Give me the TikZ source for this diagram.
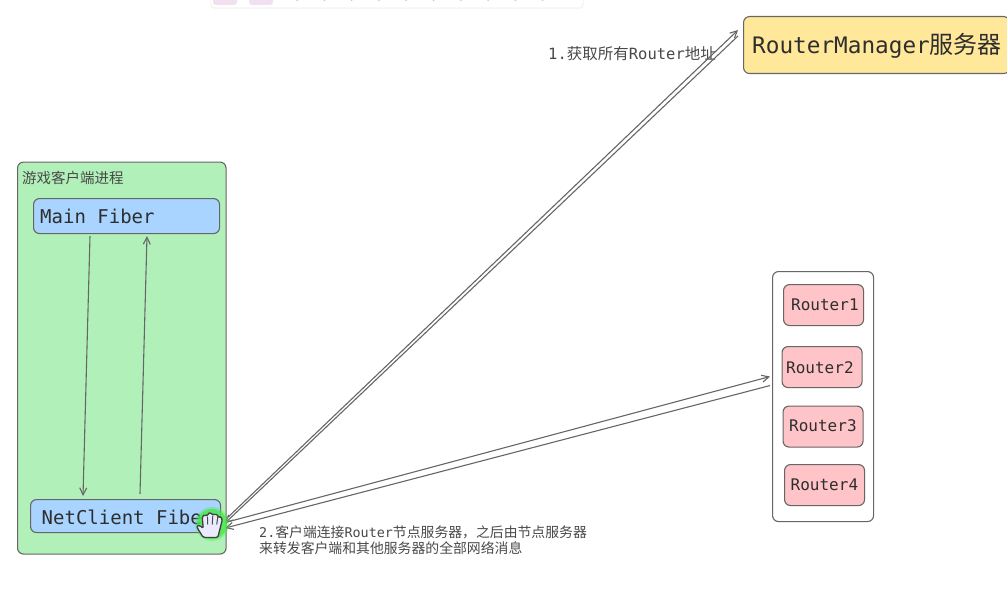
\documentclass[tikz,border=0pt]{standalone}
\usepackage{fontspec}
\setmainfont{Noto Sans CJK SC}
\newfontfamily\mono{DejaVu Sans Mono}
\newfontfamily\cjk{Noto Sans CJK SC}
\usetikzlibrary{calc,arrows.meta}
\definecolor{edgegray}{HTML}{666666}
\definecolor{txt}{HTML}{2E2E2E}
\definecolor{lbltxt}{HTML}{484848}
\definecolor{fiberblue}{HTML}{A8D4FF}
\definecolor{routerpink}{HTML}{FFC4C8}
\definecolor{procgreen}{HTML}{B1F1B9}
\definecolor{mgryellow}{HTML}{FFE89A}
\definecolor{halo}{HTML}{48E848}
\tikzset{
  box/.style={draw=edgegray,line width=1.1pt,rounded corners=6pt,inner sep=0pt,minimum height=33pt},
  fiber/.style={box,fill=fiberblue},
  monotext/.style={inner sep=0pt,text=txt,anchor=west,font=\mono\fontsize{19}{19}\selectfont},
  routerbox/.style={box,fill=routerpink,minimum width=80pt,minimum height=41pt},
  routertext/.style={inner sep=0pt,text=txt,font=\mono\fontsize{16}{16}\selectfont},
  lbl/.style={inner sep=0pt,text=lbltxt,anchor=west},
  conn/.style={draw=edgegray,line width=1.1pt,-{Straight Barb[length=7pt,width=7pt]}},
}
\begin{document}
\begin{tikzpicture}[x=1pt,y=-1pt]
\useasboundingbox (0,0) rectangle (1007,602);
% faint toolbar at top
\fill[black!4,rounded corners=5pt] (210,-8) rectangle (584,9);
\fill[white,rounded corners=5pt] (211,-8) rectangle (583,7.5);
\fill[violet!12,rounded corners=3pt] (213,-8) rectangle (237,5);
\fill[violet!12,rounded corners=3pt] (249,-8) rectangle (273,5);
\foreach \i in {0,...,9} \fill[black!25] (297+27.3*\i,0) circle (1pt);
% process
\node[box,fill=procgreen,minimum width=208.5pt,minimum height=392pt,anchor=north west] (proc) at (17,161.5) {};
\node[lbl,font=\fontsize{14.5}{15}\selectfont] (proct) at (22,177.5) {游戏客户端进程};
\node[fiber,minimum width=186pt,minimum height=35pt,anchor=north west] (main) at (33,198) {};
\node[monotext] (maint) at (40,216) {Main Fiber};
\node[fiber,minimum width=190pt,anchor=north west] (net) at (30,499) {};
\node[monotext] (nett) at (41.5,517) {NetClient Fiber};
% manager
\node[box,fill=mgryellow,minimum width=266pt,minimum height=57pt,anchor=north west] (mgr) at (743,16) {};
\node[inner sep=0pt,text=txt,anchor=west] (mgrt) at (752,46) {{\mono\fontsize{22.7}{23}\selectfont RouterManager}{\cjk\fontsize{24}{24}\selectfont 服务器}};
% routers
\node[box,fill=white,minimum width=101pt,minimum height=250pt,anchor=north west] (grp) at (772,271) {};
\node[routerbox,anchor=north west] (r1) at (783,284) {};
\node[routertext,anchor=west] (r1t) at (791,304.5) {Router1};
\node[routerbox,anchor=north west] (r2) at (781.5,346) {};
\node[routertext,anchor=west] (r2t) at (786,368) {Router2};
\node[routerbox,anchor=north west] (r3) at (782.5,405.5) {};
\node[routertext,anchor=west] (r3t) at (789,426) {Router3};
\node[routerbox,anchor=north west] (r4) at (784,464) {};
\node[routertext,anchor=west] (r4t) at (790.5,484.5) {Router4};
% labels
\node[lbl,font=\fontsize{15.5}{15.5}\selectfont] (l1) at (548,54) {{\mono\fontsize{15.5}{15.5}\selectfont 1.}获取所有{\mono\fontsize{15.5}{15.5}\selectfont Router}地址};
\node[lbl,align=left,anchor=north west,font=\fontsize{13.85}{16.5}\selectfont] (l2) at (259,525.5) {{\mono\fontsize{13.4}{13}\selectfont 2.}客户端连接{\mono\fontsize{13.4}{13}\selectfont Router}节点服务器，之后由节点服务器\\来转发客户端和其他服务器的全部网络消息};
% connectors
\draw[conn] ($(main.south west)+(57,2)$) -- ($(net.north west)+(53,-3)$);
\draw[conn] ($(net.north west)+(110,-5)$) -- ($(main.south west)+(114,2)$);
\draw[conn] ($(net.east)+(6,2)$) -- ($(mgr.north west)+(-5,14)$);
\draw[conn] ($(mgr.north west)+(-5,20)$) -- ($(net.east)+(4,7)$);
\draw[conn] ($(net.east)+(6,6)$) -- ($(grp.west)+(-2,-20)$);
\draw[conn] ($(grp.west)+(-2,-11)$) -- ($(net.east)+(4,12)$);
% hand cursor
\fill[halo,opacity=.35] (212,524) circle (17pt);
\fill[halo,opacity=.75] (212,524) circle (15pt);
\begin{scope}[shift={(210,525.5)},xscale=1.12,yscale=1]
\draw[fill=white!92!blue,draw=black!75,line width=1.3pt,line join=round,rounded corners=1.5pt]
 (-6,12) -- (-11,3) -- (-12,0) -- (-9,0) -- (-6,3) -- (-7,-9) -- (-4.5,-11) -- (-2.5,-9) -- (-2,-12) -- (1,-13) -- (2.5,-10) -- (5,-12) -- (7,-9.5) -- (8,-8) -- (10,-9) -- (11,-6) -- (9,3) -- (7,12) -- cycle;
\draw[black!70,line width=1pt] (-2.3,-9) -- (-2,-1) (2.5,-10) -- (2,-1) (7,-9) -- (6,-1);
\end{scope}
\end{tikzpicture}
\end{document}
